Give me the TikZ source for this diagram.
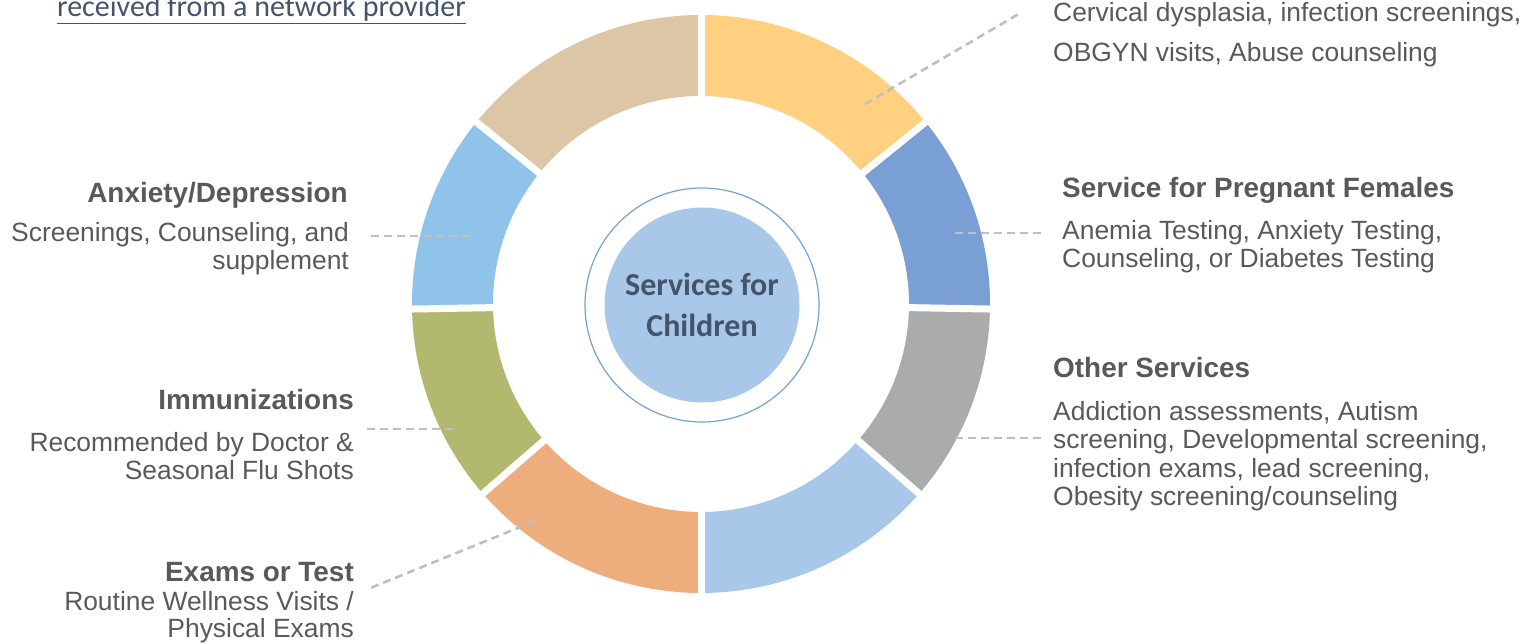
\documentclass[tikz,border=0pt]{standalone}
\usepackage{fontspec}
\setmainfont{Liberation Sans}
\newfontfamily\carlito{Carlito}
\definecolor{labelgray}{HTML}{595959}
\definecolor{leadergray}{HTML}{BFBFBF}
\definecolor{navytext}{HTML}{44546A}
\definecolor{hubblue}{HTML}{A9C8E9}
\definecolor{haloblue}{HTML}{6FA3DA}
\definecolor{segyellow}{HTML}{FED07F}
\definecolor{segdarkblue}{HTML}{7A9FD4}
\definecolor{seggray}{HTML}{A9ACAB}
\definecolor{segpaleblue}{HTML}{A9C8E9}
\definecolor{segorange}{HTML}{EDAD7D}
\definecolor{segolive}{HTML}{B3B86F}
\definecolor{segskyblue}{HTML}{8FC3E9}
\definecolor{segtan}{HTML}{DDC6A5}
\newcommand\bodyfont{\fontsize{26.4}{28.5}\selectfont}
\newcommand\titlefont{\fontsize{27.9}{30}\selectfont\bfseries}

\begin{document}
\begin{tikzpicture}[x=1pt,y=1pt]
			\tikzstyle{title}=[font=\titlefont,text=labelgray,inner sep=0pt]
			\tikzstyle{body}=[font=\bodyfont,text=labelgray,inner sep=0pt]
			\tikzstyle{leader}=[draw=leadergray,line width=2.6pt,dash pattern=on 8pt off 5pt]
			\def\ringout{289}
			\def\ringin{208}
			\useasboundingbox (0,0) rectangle (1523,644);
			\coordinate (centre) at (701,340);
			\foreach \a/\b/\c in {90/39/segyellow,39/-1/segdarkblue,-1/-41/seggray,-41/-90/segpaleblue,-90/-139/segorange,-139/-179/segolive,181/141/segskyblue,141/90/segtan}
			\fill[\c] ([shift={(\a:\ringout)}]centre) arc[start angle=\a,end angle=\b,radius=\ringout]
			-- ([shift={(\b:\ringin)}]centre) arc[start angle=\b,end angle=\a,radius=\ringin] -- cycle;
			\foreach \a in {90,39,-1,-41,-90,-139,181,141}
			\draw[white,line width=7pt] ([shift={(\a:204)}]centre) -- ([shift={(\a:293)}]centre);
			\node[circle,draw=haloblue,line width=1.2pt,minimum size=234pt,inner sep=0pt](halo) at (702,339){};
			\node[circle,fill=hubblue,minimum size=195pt,inner sep=0pt,align=center,text=navytext,
			font=\carlito\bfseries\fontsize{32}{41}\selectfont](hub) at (halo){Services for\\Children};
			\node[anchor=base west,inner sep=0pt,text=navytext,font=\carlito\fontsize{30}{36}\selectfont](note) at (57,627){\underline{received from a network provider}};
			\node[body,anchor=base west,align=left,font=\fontsize{26.4}{40}\selectfont](cervical) at (1053,582){Cervical dysplasia, infection screenings,\\OBGYN visits, Abuse counseling};
			\node[title,anchor=base west](pregnant) at (1062,446){Service for Pregnant Females};
			\node[body,anchor=base west,align=left](pregnanttext) at (1062,376){Anemia Testing, Anxiety Testing,\\Counseling, or Diabetes Testing};
			\node[title,anchor=base west](other) at (1053,266){Other Services};
			\node[body,anchor=base west,align=left](othertext) at (1053,138){Addiction assessments, Autism\\screening, Developmental screening,\\infection exams, lead screening,\\Obesity screening/counseling};
			\node[title,anchor=base east](anxiety) at (348,441){Anxiety/Depression};
			\node[body,anchor=base east,align=right](anxietytext) at (349,374){Screenings, Counseling, and\\supplement};
			\node[title,anchor=base east](immun) at (354,234){Immunizations};
			\node[body,anchor=base east,align=right](immuntext) at (354,164){Recommended by Doctor \&\\Seasonal Flu Shots};
			\node[title,anchor=base east](exams) at (354,62){Exams or Test};
			\node[body,anchor=base east,align=right,font=\fontsize{26.4}{27}\selectfont](examstext) at (354,6){Routine Wellness Visits /\\Physical Exams};
			\coordinate (yellowpin) at (865,540);
			\coordinate (cervicalend) at (1022,632);
			\coordinate (darkbluepin) at (955,411);
			\coordinate (pregnantend) at (1043,411);
			\coordinate (graypin) at (955,206);
			\coordinate (otherend) at (1043,206);
			\coordinate (skybluepin) at (470,408);
			\coordinate (anxietyend) at (367,408);
			\coordinate (olivepin) at (453,215);
			\coordinate (immunend) at (367,215);
			\coordinate (orangepin) at (535,123);
			\coordinate (examsend) at (368,55);
			\draw[leader] (yellowpin) -- (cervicalend);
			\draw[leader] (darkbluepin) -- (pregnantend);
			\draw[leader] (graypin) -- (otherend);
			\draw[leader] (skybluepin) -- (anxietyend);
			\draw[leader] (olivepin) -- (immunend);
			\draw[leader] (orangepin) -- (examsend);
\end{tikzpicture}
\end{document}
